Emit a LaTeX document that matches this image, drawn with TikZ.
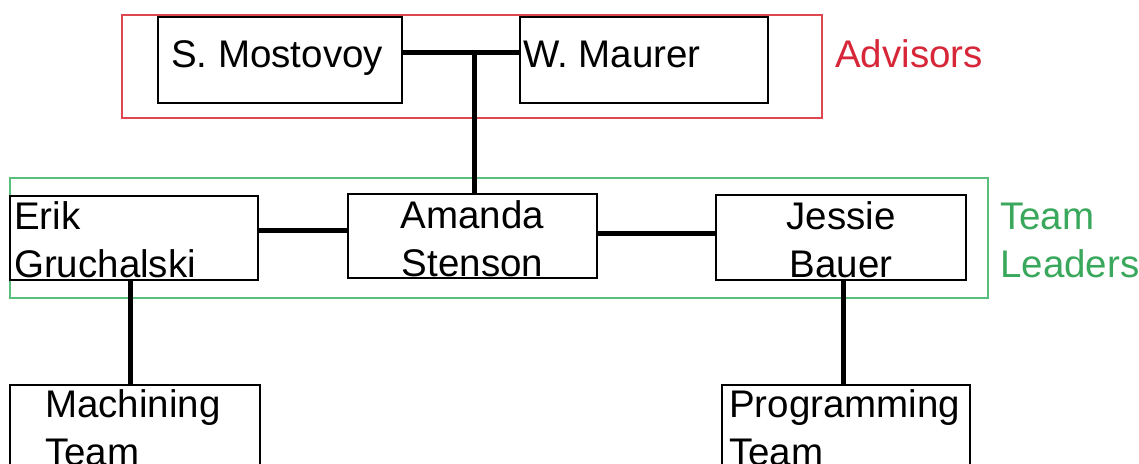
\documentclass[tikz,border=0pt]{standalone}
\usepackage{fontspec}
\setmainfont{Liberation Sans}
\definecolor{advred}{RGB}{214,38,56}
\definecolor{advredline}{RGB}{222,70,80}
\definecolor{leadgreen}{RGB}{58,168,92}
\definecolor{leadgreenline}{RGB}{90,190,125}
\tikzset{
  person/.style={draw=black, line width=1.5pt, rectangle, inner sep=0pt},
  group/.style={line width=1.4pt},
  conn/.style={draw=black, line width=5pt},
  txt/.style={inner sep=0pt, font=\fontsize{38.5}{48}\selectfont, align=left},
}
\begin{document}
\begin{tikzpicture}[x=1pt,y=-1pt]
\useasboundingbox (0,0) rectangle (1139,463);
\clip (0,0) rectangle (1139,463);
\fill[white] (0,0) rectangle (1139,463);
% group frames
\draw[group, draw=advredline] (122,15) rectangle (822,118);
\draw[group, draw=leadgreenline] (10,178) rectangle (988,298);
% boxes
\node[person, minimum width=244pt, minimum height=86pt] (mos) at (280,60) {};
\node[person, minimum width=248pt, minimum height=86pt] (mau) at (644,60) {};
\node[person, minimum width=248pt, minimum height=84pt] (erik) at (134,238) {};
\node[person, minimum width=249pt, minimum height=84pt] (ama) at (472.5,236) {};
\node[person, minimum width=250pt, minimum height=85pt] (jes) at (841,237.5) {};
\node[person, minimum width=250pt, minimum height=100pt] (mach) at (135,435) {};
\node[person, minimum width=248pt, minimum height=100pt] (prog) at (846,435) {};
% junction coordinates
\coordinate (j) at (474,52);
\coordinate (ea) at (300,230);
\coordinate (aj) at (650,233);
% connectors
\draw[conn] (mos.east |- j) -- (mau.west |- j);
\draw[conn] (j) -- (j |- ama.north);
\draw[conn] (erik.east |- ea) -- (ama.west |- ea);
\draw[conn] (ama.east |- aj) -- (jes.west |- aj);
\coordinate (ed) at (130,330);
\draw[conn] (ed |- erik.south) -- (ed |- mach.north);
\coordinate (jd) at (843,330);
\draw[conn] (jd |- jes.south) -- (jd |- prog.north);
% texts (anchor = baseline of last line)
\node[txt, anchor=base west] (tmos) at (171,67) {S. Mostovoy};
\node[txt, anchor=base west] (tmau) at (523,67) {W. Maurer};
\node[txt, anchor=base west, text=advred] (tadv) at (835,67) {Advisors};
\node[txt, anchor=base west] (terik) at (14,277) {Erik\\Gruchalski};
\node[txt, anchor=base, align=center] (tama) at (472.5,276) {Amanda\\Stenson};
\node[txt, anchor=base, align=center] (tjes) at (841,277) {Jessie\\Bauer};
\node[txt, anchor=base west, text=leadgreen] (tlead) at (1000,277) {Team\\Leaders};
\node[txt, anchor=base west] (tmach) at (45,465) {Machining\\Team};
\node[txt, anchor=base west] (tprog) at (729,465) {Programming\\Team};
\end{tikzpicture}
\end{document}
